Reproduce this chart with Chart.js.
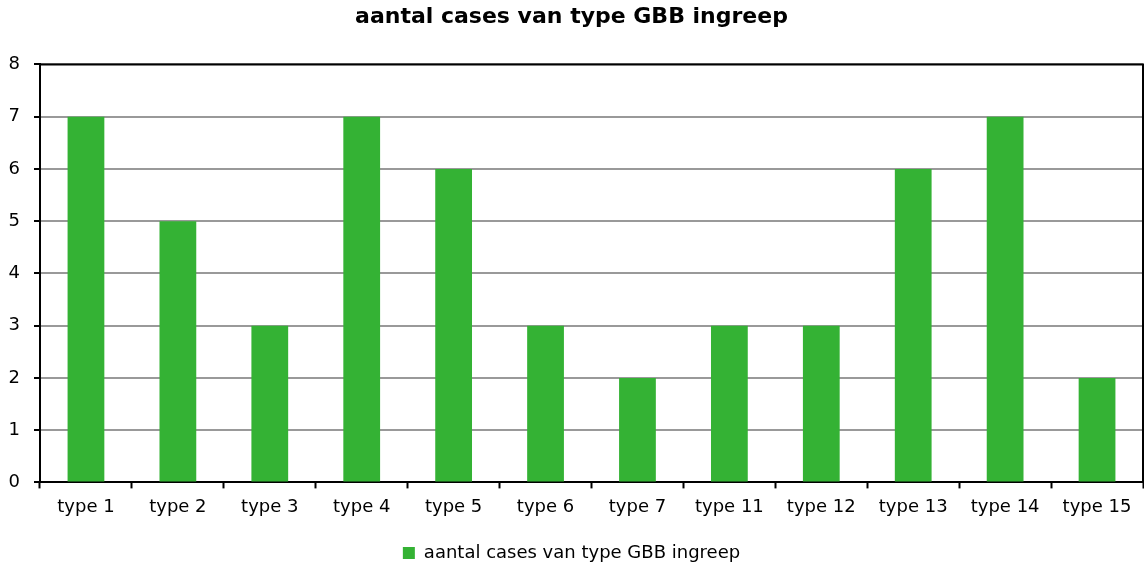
<!DOCTYPE html>
<html><head><meta charset="utf-8">
<script src="https://cdn.jsdelivr.net/npm/chart.js@4/dist/chart.umd.min.js"></script>
<style>html,body{margin:0;padding:0;background:#fff}#w{width:1144px;height:566px}</style>
</head><body><div id="w"><canvas id="c"></canvas></div>
<script>
const categories = ['type 1','type 2','type 3','type 4','type 5','type 6','type 7','type 11','type 12','type 13','type 14','type 15'];
const seriesName = 'aantal cases van type GBB ingreep';
const values = [7,5,3,7,6,3,2,3,3,6,7,2];
const yTicks = [0,1,2,3,4,5,6,7,8];

const FONT = 'DejaVu Sans, Verdana, sans-serif';
const frame = {
  id:'frame',
  afterDatasetsDraw(chart){
    const {ctx, chartArea:a} = chart;
    ctx.save();
    ctx.strokeStyle='#000'; ctx.lineWidth=2;
    ctx.beginPath();
    ctx.moveTo(a.left, a.top); ctx.lineTo(a.right, a.top); ctx.lineTo(a.right, a.bottom);
    ctx.stroke();
    ctx.restore();
  }
};
new Chart(document.getElementById('c'), {
  type:'bar',
  data:{labels:categories, datasets:[{label:seriesName, data:values, backgroundColor:'#34b234', borderWidth:0, barPercentage:0.4, categoryPercentage:1}]},
  options:{
    responsive:true, maintainAspectRatio:false, animation:false,
    layout:{padding:{left:0,right:1,top:0,bottom:-6}},
    plugins:{
      title:{display:true, text:seriesName, color:'#000', font:{family:FONT,size:22,weight:'bold'}, padding:{top:4,bottom:34}},
      legend:{position:'bottom', labels:{color:'#000', font:{family:FONT,size:18}, usePointStyle:true, pointStyle:'rect', boxWidth:12, boxHeight:12, padding:18}},
      tooltip:{enabled:false}
    },
    scales:{
      x:{
        grid:{display:true, drawOnChartArea:false, offset:true, tickLength:6, tickColor:'#000', tickWidth:2},
        border:{display:true, color:'#000', width:2},
        ticks:{color:'#000', font:{family:FONT,size:18}, padding:8, maxRotation:0, autoSkip:false}
      },
      y:{
        min:0, max:8,
        afterBuildTicks(s){ s.ticks = yTicks.map(v=>({value:v})); },
        afterFit(s){ s.width = 40; },
        grid:{color:'#999', lineWidth:2, tickLength:6, tickColor:'#000', tickWidth:2},
        border:{display:true, color:'#000', width:2},
        ticks:{color:'#000', font:{family:FONT,size:18}, padding:14}
      }
    }
  },
  plugins:[frame]
});
</script></body></html>
